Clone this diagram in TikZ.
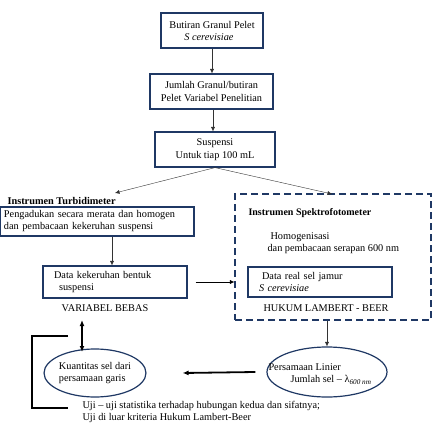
\documentclass[tikz,border=0pt]{standalone}
\usepackage{fontspec}
\setmainfont{Liberation Serif}
\usetikzlibrary{positioning, arrows.meta, shapes.geometric}
\definecolor{biru}{RGB}{31,56,100}

\begin{document}
\begin{tikzpicture}[x=1pt, y=-1pt, font=\fontsize{10.3}{12}\selectfont,
	kotak/.style={draw=biru, line width=1.2pt, rectangle, inner sep=0pt},
	elips/.style={draw=biru, line width=1.2pt, ellipse, inner sep=0pt},
	panah/.style={-{Latex[length=4.5pt, width=4pt]}, black!80},
	tebal/.style={line width=1.8pt}]
	\useasboundingbox (0,0) rectangle (434,423);

	% Alur atas
	\node[kotak, minimum width=102pt, minimum height=35pt, align=left] (butiran) at (212,30.5) {Butiran Granul Pelet\\\hspace{15pt}\textit{S cerevisiae}};
	\node[kotak, minimum width=123pt, minimum height=35pt, align=center, font=\fontsize{10.3}{12.5}\selectfont] (jumlah) at (211.5,91.5) {Jumlah Granul/butiran\\Pelet Variabel Penelitian};
	\node[kotak, minimum width=120pt, minimum height=35pt, align=center, font=\fontsize{10.3}{12.5}\selectfont] (suspensi) at (215,149.5) {Suspensi\\Untuk tiap 100 mL};
	\draw[panah] (butiran.south -| 212,0) -- (jumlah.north -| 212,0);
	\draw[panah] (jumlah.south -| 213,0) -- (suspensi.north -| 213,0);

	% Cabang kiri: turbidimeter
	\node[anchor=west, font=\fontsize{10.3}{12}\selectfont\bfseries] (judulturbid) at (4,201) {Instrumen Turbidimeter};
	\node[kotak, text width=186pt, inner xsep=4pt, minimum height=29pt, align=left] (pengadukan) at (97,221.5) {Pengadukan secara merata dan homogen\\dan pembacaan kekeruhan suspensi};
	\node[kotak, text width=122pt, inner xsep=11pt, minimum height=32pt, align=left] (datakeruh) at (115,282) {Data kekeruhan bentuk\\\hspace{5pt}suspensi\\[2pt]};
	\node (varbebas) at (105,308) {VARIABEL BEBAS};
	\coordinate (kiri) at (115,193);
	\draw[panah] (suspensi.south) -- (kiri);
	\draw[panah] (pengadukan.south -| 112,0) -- (datakeruh.north -| 112,0);

	% Cabang kanan: spektrofotometer
	\node[kotak, dashed, dash pattern=on 7pt off 4pt, minimum width=196pt, minimum height=126pt] (spektro) at (333,257) {};
	\node[anchor=west, font=\fontsize{10}{12}\selectfont\bfseries] (judulspektro) at (245,213) {Instrumen Spektrofotometer};
	\node[anchor=west, align=left] (homogen) at (264,243) {\hspace{3pt}Homogenisasi\\dan pembacaan serapan 600 nm};
	\node[kotak, text width=124pt, inner xsep=10pt, minimum height=30pt, align=left] (datareal) at (320,282) {\hspace{4pt}Data real sel jamur\\\hspace{1pt}\textit{S cerevisiae}\\[2pt]};
	\node (hukum) at (326,308) {HUKUM LAMBERT - BEER};
	\coordinate (kanan) at (332,194);
	\draw[panah] (suspensi.south) -- (kanan);
	\draw[panah, black] ([xshift=8pt]datakeruh.east) -- (datakeruh.east -| spektro.west);

	% Bagian bawah
	\node[elips, minimum width=120pt, minimum height=50pt] (lambert) at (327,372) {};
	\node[align=left] (linier) at (320,374) {Persamaan Linier\\\hspace{22pt}Jumlah sel -- λ\textsubscript{\textit{600 nm}}};
	\node[elips, minimum width=92pt, minimum height=48pt, align=left] (kuantitas) at (95,373) {Kuantitas sel dari\\persamaan garis};
	\draw[panah] (spektro.south -| lambert.north) -- (lambert.north);
	\draw[tebal, -{Latex[length=6pt, width=5pt]}] ([xshift=-11pt]lambert.west) -- ([xshift=36pt]kuantitas.east);
	\coordinate (atas) at (82,320);
	\coordinate (bawah) at (82,352);
	\draw[tebal, {Latex[length=6pt, width=5pt]}-{Latex[length=6pt, width=5pt]}] (atas) -- (bawah);
	\draw[tebal] (68,336) -- (32,336) -- (32,408) -- (68,408);
	\node[anchor=west, align=left] (uji) at (79,411.5) {Uji -- uji statistika terhadap hubungan kedua dan sifatnya;\\Uji di luar kriteria Hukum Lambert-Beer};
\end{tikzpicture}
\end{document}
